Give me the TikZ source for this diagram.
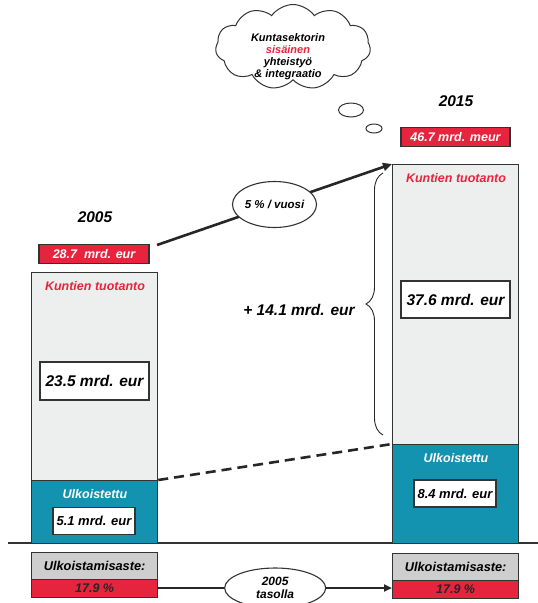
\documentclass[tikz,border=0pt]{standalone}
\usepackage{fontspec}
\setmainfont{Liberation Sans}
\usetikzlibrary{shapes.geometric,shapes.symbols,decorations.pathreplacing,arrows.meta}
\definecolor{barGray}{HTML}{EDEEEE}
\definecolor{tealB}{HTML}{1393AF}
\definecolor{redL}{HTML}{E6243D}
\definecolor{boxGray}{HTML}{CECECE}
\definecolor{edgeC}{HTML}{333333}
\begin{document}
\begin{tikzpicture}[x=1pt,y=-1pt,
  fA/.style={font=\bfseries\itshape\fontsize{12.5}{14}\selectfont},
  fB/.style={font=\bfseries\itshape\fontsize{15.5}{18}\selectfont},
  fC/.style={font=\bfseries\itshape\fontsize{11}{12}\selectfont},
  bar/.style={draw=edgeC, line width=1.3pt, anchor=north west, inner sep=0pt},
  valbox/.style={draw=edgeC, fill=white, line width=1.1pt, inner sep=0pt},
  redlab/.style={draw=edgeC, fill=redL, line width=1.1pt, inner sep=0pt, text=white, fA},
  oval/.style={ellipse, draw=edgeC, fill=white, line width=1.1pt, inner sep=0pt},
  bigarrow/.style={line width=2.6pt, draw=black!85, -{Triangle[length=9pt,width=8pt]}},
]
\useasboundingbox (0,0) rectangle (538,603);

% baseline
\coordinate (bl0) at (8,543);
\coordinate (bl1) at (538,543);
\draw[line width=1.3pt, draw=edgeC] (bl0) -- (bl1);

% left bar
\node[bar, fill=barGray, minimum width=126pt, minimum height=208pt] (lg) at (31,272) {};
\node[bar, fill=tealB, minimum width=126pt, minimum height=63pt] (lt) at (31,480) {};
% right bar
\node[bar, fill=barGray, minimum width=126pt, minimum height=280pt] (rg) at (392,164) {};
\node[bar, fill=tealB, minimum width=126pt, minimum height=99pt] (rt) at (392,444) {};

% years
\node[fB] (y05) at (95,217) {2005};
\node[fB] (y15) at (456,101) {2015};

% red totals
\node[redlab, minimum width=110pt, minimum height=19pt] (lred) at (94,254) {28.7\ \ mrd. eur};
\node[redlab, minimum width=109pt, minimum height=19pt] (rred) at (455.5,137) {46.7 mrd. meur};

% Kuntien tuotanto labels
\node[fA, text=redL] (lkt) at (95,286) {Kuntien tuotanto};
\node[fA, text=redL] (rkt) at (456,178) {Kuntien tuotanto};

% value boxes
\node[valbox, fB, minimum width=109pt, minimum height=38pt] (lv) at (94.5,381) {23.5 mrd. eur};
\node[valbox, fB, minimum width=109pt, minimum height=37pt] (rv) at (455.5,299.5) {37.6 mrd. eur};

% Ulkoistettu
\node[fA, text=white] (lu) at (95,494) {Ulkoistettu};
\node[fA, text=white] (ru) at (456,458) {Ulkoistettu};
\node[valbox, fA, font=\bfseries\itshape\fontsize{13}{15}\selectfont, minimum width=82pt, minimum height=27pt] (lo) at (94,521) {5.1 mrd. eur};
\node[valbox, fA, font=\bfseries\itshape\fontsize{13}{15}\selectfont, minimum width=82pt, minimum height=27pt] (ro) at (455,493.5) {8.4 mrd. eur};

% Ulkoistamisaste boxes
\node[bar, fill=boxGray, fA, minimum width=126pt, minimum height=27pt] (la) at (31,552) {};
\node[fA, font=\bfseries\itshape\fontsize{12.8}{15}\selectfont] (lat) at (la.center) {Ulkoistamisaste:};
\node[bar, fill=redL, minimum width=126pt, minimum height=18pt] (lp) at (31,579) {};
\node[fA, text=black!85] (lpt) at (lp.center) {17.9 \%};
\node[bar, fill=boxGray, minimum width=126pt, minimum height=27pt] (ra) at (392,553) {};
\node[fA, font=\bfseries\itshape\fontsize{12.8}{15}\selectfont] (rat) at (ra.center) {Ulkoistamisaste:};
\node[bar, fill=redL, minimum width=126pt, minimum height=18pt] (rp) at (392,580) {};
\node[fA, text=black!85] (rpt) at (rp.center) {17.9 \%};

% bottom arrow
\draw[line width=2pt, draw=black!85, -{Triangle[length=8pt,width=7pt]}] (lp.east |- 0,588) -- node[oval, minimum width=101pt, minimum height=40pt, fC, font=\bfseries\itshape\fontsize{12}{13}\selectfont, align=center] (tas) {2005\\tasolla} (rp.west |- 0,588);

% dashed
\draw[line width=2.6pt, draw=black!85, dash pattern=on 10pt off 6pt] (lt.north east) -- (rt.north west);

% growth arrow
\coordinate (ga) at (157,245);
\draw[bigarrow] (ga) -- node[oval, minimum width=74pt, minimum height=46pt, font=\bfseries\itshape\fontsize{11.5}{13}\selectfont] (gv) {5 \% / vuosi} (rg.north west);

% brace
\coordinate (br0) at (383,435);
\coordinate (br1) at (383,173);
\draw[line width=0.9pt, draw=black!85, decorate, decoration={brace, amplitude=17pt}] (br0) -- (br1);
\node[fB] (inc) at (299,310) {+ 14.1 mrd. eur};

% cloud
\node[cloud, draw=edgeC, fill=white, line width=1pt, cloud puffs=11, cloud puff arc=110, aspect=1.8, minimum width=155pt, minimum height=85pt, inner sep=0pt] (cl) at (293,47) {};
\node[fC, align=center] (clt) at (288,57) {Kuntasektorin\\\textcolor{redL}{sisäinen}\\yhteistyö\\\& integraatio};
\node[ellipse, draw=edgeC, line width=1pt, minimum width=25pt, minimum height=14pt, inner sep=0pt] (b1) at (351,110) {};
\node[ellipse, draw=edgeC, line width=1pt, minimum width=16pt, minimum height=9pt, inner sep=0pt] (b2) at (374,128.5) {};
\end{tikzpicture}
\end{document}
